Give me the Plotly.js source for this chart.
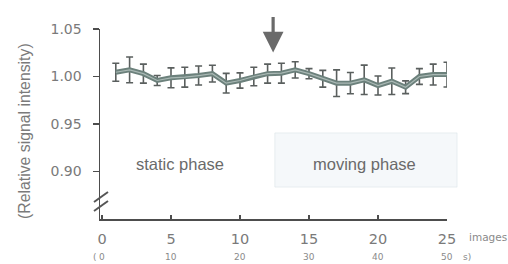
<!DOCTYPE html>
<html>
<head>
<meta charset="utf-8">
<script src="https://cdn.plot.ly/plotly-3.0.1.min.js"></script>
<style>html,body{margin:0;padding:0;background:#fff;}#chart{width:508px;height:264px;}</style>
</head>
<body>
<div id="chart"></div>
<script>
// Data
const imageIndex = [1,2,3,4,5,6,7,8,9,10,11,12,13,14,15,16,17,18,19,20,21,22,23,24,25];
const relIntensity = [1.0045,1.007,1.003,0.9958,0.9986,0.9993,1.001,1.003,0.993,0.9958,1.000,1.003,1.0035,1.007,1.003,0.9976,0.993,0.993,0.9965,0.9905,0.995,0.9887,1.000,1.002,1.002];
const errVals = [0.0095,0.0135,0.010,0.0053,0.0105,0.0105,0.010,0.0088,0.0103,0.008,0.0097,0.010,0.0105,0.0085,0.0053,0.0088,0.014,0.0112,0.0155,0.010,0.014,0.0067,0.0083,0.011,0.013];
const xTickVals = [0,5,10,15,20,25];
const xTickText = ['0','5','10','15','20','25'];
const secondsLabels = ['0','10','20','30','40','50'];
const yTickVals = [0.90,0.95,1.00,1.05];
const yTickText = ['0.90','0.95','1.00','1.05'];
const arrowAt = 12.4;
const phaseLabels = [{text:'static phase', x:5.65, y:0.9074},{text:'moving phase', x:18.99, y:0.908}];

const gray = '#7a7a7a';
const axisCol = '#4d4d4d';

const traces = [{
  x: imageIndex, y: relIntensity, type:'scatter', mode:'lines',
  line:{color:'#6c817c', width:5},
  error_y:{type:'data', array:errVals, visible:true, color:'#5a5f5e', thickness:1.6, width:3.5},
  hoverinfo:'skip'
},{
  x: imageIndex, y: relIntensity, type:'scatter', mode:'lines',
  line:{color:'#a9b8b4', width:1.2},
  hoverinfo:'skip'
}];

const smallFont = {family:'DejaVu Sans, sans-serif', size:9, color:'#8a8a8a'};
const annotations = [];
phaseLabels.forEach(p => annotations.push({
  xref:'x', yref:'y', x:p.x, y:p.y, text:p.text, showarrow:false,
  font:{family:'Liberation Sans, Arial, sans-serif', size:16.5, color:'#6a6a6a'}
}));
annotations.push({
  xref:'x', yref:'y', x:arrowAt, y:1.0253, text:'', showarrow:true,
  ax:0, ay:-37, arrowhead:2, arrowsize:1.3, arrowwidth:3.2, arrowcolor:'#6a6a6a'
});
secondsLabels.forEach((s,i) => annotations.push({
  xref:'x', yref:'paper', x:xTickVals[i], y:0, yshift:-38, yanchor:'middle', text:s, showarrow:false,
  font:smallFont
}));
annotations.push({xref:'x', yref:'paper', x:0, y:0, xshift:-7, yshift:-38, yanchor:'middle', text:'(', showarrow:false, font:smallFont});
annotations.push({xref:'x', yref:'paper', x:25, y:0, xshift:14, xanchor:'left', yshift:-38, yanchor:'middle', text:'s)', showarrow:false, font:smallFont});
annotations.push({xref:'x', yref:'paper', x:25, y:0, xshift:20, xanchor:'left', yshift:-18, yanchor:'middle', text:'images', showarrow:false,
  font:{family:'DejaVu Sans, sans-serif', size:10.5, color:'#8a8a8a'}});
annotations.push({xref:'paper', yref:'paper', x:0, xshift:-75, y:0.495, yshift:-6, xanchor:'center', yanchor:'middle',
  text:'(Relative signal intensity)', textangle:-90, showarrow:false,
  font:{family:'Liberation Sans, Arial, sans-serif', size:15.8, color:'#7a7a7a'}});

const shapes = [
  {type:'rect', xref:'paper', yref:'paper', x0:0.504, x1:1.029, y0:0.168, y1:0.453, line:{width:1, color:'rgba(215,225,230,0.5)'}, fillcolor:'rgba(236,242,245,0.5)', layer:'below'},
  {type:'line', xref:'paper', yref:'paper', x0:-0.0173, x1:0.023, y0:0.0895, y1:0.142, line:{color:'#555', width:2}},
  {type:'line', xref:'paper', yref:'paper', x0:-0.0173, x1:0.023, y0:0.042, y1:0.0947, line:{color:'#555', width:2}}
];

const layout = {
  width:508, height:264,
  margin:{l:100, r:61, t:29, b:45},
  paper_bgcolor:'#fff', plot_bgcolor:'rgba(0,0,0,0)',
  showlegend:false,
  xaxis:{range:[-0.145,25], tickvals:xTickVals, ticktext:xTickText, showline:true, linecolor:axisCol, linewidth:1.5,
    ticks:'inside', ticklen:4, tickcolor:axisCol, tickwidth:1.5, showgrid:false, zeroline:false,
    tickfont:{family:'DejaVu Sans, sans-serif', size:14.5, color:gray}, ticklabelstandoff:6},
  yaxis:{range:[0.85,1.05], tickvals:yTickVals, ticktext:yTickText, showline:true, linecolor:axisCol, linewidth:1.5,
    ticks:'outside', ticklen:6, tickcolor:axisCol, tickwidth:1.5, showgrid:false, zeroline:false,
    tickfont:{family:'DejaVu Sans, sans-serif', size:14, color:gray}, ticklabelstandoff:8},
  annotations:annotations,
  shapes:shapes
};

Plotly.newPlot('chart', traces, layout, {staticPlot:true, displayModeBar:false});
</script>
</body>
</html>
